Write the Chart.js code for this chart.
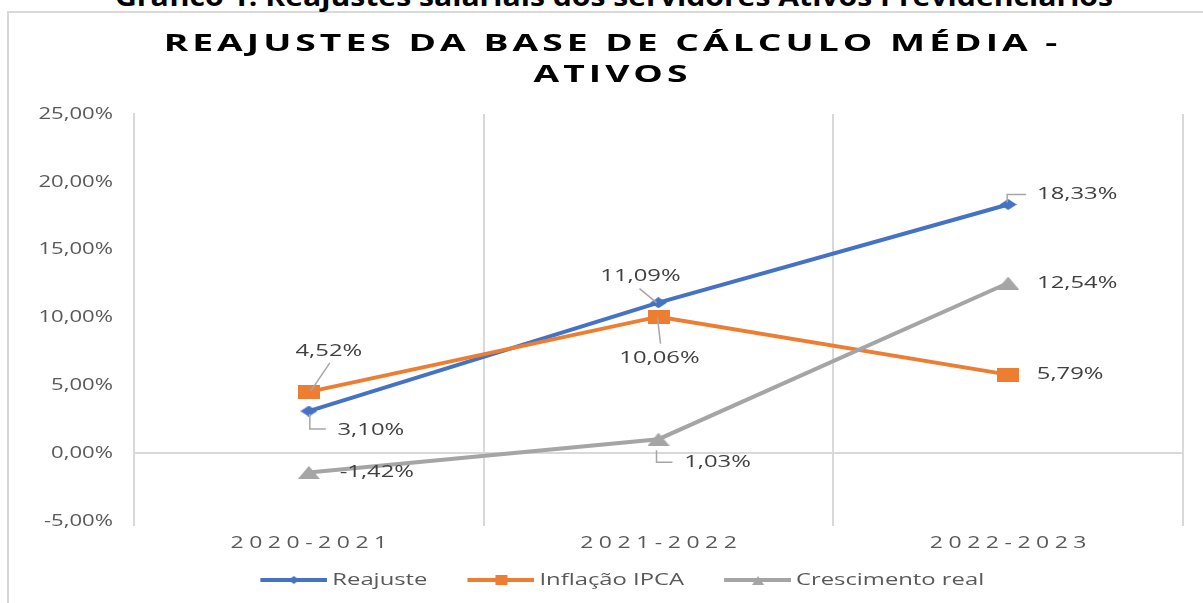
<!DOCTYPE html>
<html><head><meta charset="utf-8">
<script src="https://cdn.jsdelivr.net/npm/chart.js@4.4.1/dist/chart.umd.min.js"></script>
<style>
html,body{margin:0;padding:0;background:#fff;width:1203px;height:603px;overflow:hidden;position:relative}
#frame{position:absolute;left:7px;top:11px;width:1300px;height:700px;border-left:2px solid #d9d9d9;border-top:2px solid #d9d9d9;box-sizing:border-box}
#cap{position:absolute;left:115px;top:-17px;white-space:nowrap;font:bold 26px 'Open Sans',sans-serif;line-height:26px;color:#000;transform-origin:0 0}
#c{position:absolute;left:0;top:0}
</style></head><body>
<div id="frame"></div>
<div id="cap"><span id="capt">Gráfico 1: Reajustes salariais dos servidores Ativos Previdenciários</span></div>
<canvas id="c" width="1203" height="603"></canvas>
<script>
// ---- data ----
const categories = ['2020-2021', '2021-2022', '2022-2023'];
const reajuste = [3.10, 11.09, 18.33];
const inflacao = [4.52, 10.06, 5.79];
const crescimento = [-1.42, 1.03, 12.54];
const seriesNames = ['Reajuste', 'Inflação IPCA', 'Crescimento real'];
const yMin = -5, yMax = 25, yStep = 5;
const titleLines = ['REAJUSTES DA BASE DE CÁLCULO MÉDIA -', 'ATIVOS'];

// ---- styles ----
const COLORS = ['#4472C4', '#ED7D31', '#A5A5A5'];
const TEXT_STYLES = [
  {tag: 'Lato', sx: 1.55, ls: 2.6},        // title
  {tag: 'Roboto', sx: 1.3, ls: 0},         // y ticks
  {tag: 'Inter', sx: 1.35, ls: 4.1},       // x ticks
  {tag: 'Noto Sans', sx: 1.4, ls: 0},      // data labels
  {tag: 'DejaVu Sans', sx: 1.4, ls: 0}     // legend
];
// label placement relative to point (px), leader polyline relative to point
const labelLayout = [
  [{dx: 62, dy: 19, lead: [[1, 3], [1, 18], [17, 18]]}, {dx: -18, dy: -27, lead: [[-19, -14], [-2, 0]]}, {dx: 69, dy: -10, lead: [[-1, -2], [-1, -10], [18, -10]]}],
  [{dx: 20, dy: -41, lead: [[21, -29], [2, -1]]}, {dx: 1, dy: 41, lead: [[-1, 1], [2, 27]]}, {dx: 62, dy: 0}],
  [{dx: 68, dy: 0}, {dx: 59, dy: 23, lead: [[-2, 11], [-2, 23], [14, 23]]}, {dx: 69, dy: 0}]
];

// caption fit
(function(){
  const s = document.getElementById('capt');
  const w = s.getBoundingClientRect().width;
  document.getElementById('cap').style.transform = 'scaleX(' + (998 / w) + ')';
})();

// ---- text rendering (stretched glyphs / letter spacing) ----
const nativeFill = CanvasRenderingContext2D.prototype.fillText;
const nativeMeasure = CanvasRenderingContext2D.prototype.measureText;
function styleFor(font){ for (const s of TEXT_STYLES) if (font.indexOf(s.tag) !== -1) return s; return null; }
function patch(ctx){
  const hasLS = 'letterSpacing' in ctx;
  ctx.fillText = function(text, x, y){
    const st = styleFor(this.font);
    if (!st) return nativeFill.call(this, text, x, y);
    this.save();
    if (hasLS) this.letterSpacing = st.ls + 'px';
    this.translate(x, y);
    this.scale(st.sx, 1);
    const a = this.textAlign;
    const ls = hasLS ? st.ls : 0;
    const dx = (a === 'center') ? ls / 2 : (a === 'right' || a === 'end') ? ls : 0;
    nativeFill.call(this, text, dx, 0);
    this.restore();
  };
  ctx.measureText = function(text){
    const st = styleFor(this.font);
    if (!st) return nativeMeasure.call(this, text);
    const prev = hasLS ? this.letterSpacing : null;
    if (hasLS) this.letterSpacing = st.ls + 'px';
    const m = nativeMeasure.call(this, text);
    if (hasLS) this.letterSpacing = prev;
    const ls = hasLS ? st.ls : 0;
    return {width: Math.max(0, m.width - ls) * st.sx,
      actualBoundingBoxAscent: m.actualBoundingBoxAscent, actualBoundingBoxDescent: m.actualBoundingBoxDescent,
      actualBoundingBoxLeft: m.actualBoundingBoxLeft * st.sx, actualBoundingBoxRight: m.actualBoundingBoxRight * st.sx,
      fontBoundingBoxAscent: m.fontBoundingBoxAscent, fontBoundingBoxDescent: m.fontBoundingBoxDescent};
  };
}

// ---- marker images ----
function mk(w, h, draw){ const c = document.createElement('canvas'); c.width = w; c.height = h; draw(c.getContext('2d'), w, h); return c; }
const diamond = (col, w, h) => mk(w, h, x => { x.fillStyle = col; x.beginPath(); x.moveTo(w/2, 0); x.lineTo(w, h/2); x.lineTo(w/2, h); x.lineTo(0, h/2); x.closePath(); x.fill(); });
const square = (col, w, h) => mk(w, h, x => { x.fillStyle = col; x.fillRect(0, 0, w, h); });
const triangle = (col, w, h) => mk(w, h, x => { x.fillStyle = col; x.beginPath(); x.moveTo(w/2, 0); x.lineTo(w, h); x.lineTo(0, h); x.closePath(); x.fill(); });
// legend box 87 wide; icon image 94 wide centred on it: line occupies the last 67 px
const LEG_BOX = 87, ICON_W = 94, ICON_LINE = 67;
const legendIcon = (col, m) => mk(ICON_W, 16, (x, w, h) => {
  const x0 = ICON_W - ICON_LINE;
  x.strokeStyle = col; x.lineWidth = 4; x.beginPath(); x.moveTo(x0, h/2); x.lineTo(w, h/2); x.stroke();
  x.drawImage(m, Math.round(x0 + (ICON_LINE - m.width)/2), Math.round((h - m.height)/2)); });

const pointImgs = [diamond(COLORS[0], 17, 11), square(COLORS[1], 22, 14), triangle(COLORS[2], 22, 13)];
const legendImgs = [legendIcon(COLORS[0], diamond(COLORS[0], 11, 8)), legendIcon(COLORS[1], square(COLORS[1], 12, 10)), legendIcon(COLORS[2], triangle(COLORS[2], 12, 9))];

const fmt = v => v.toFixed(2).replace('.', ',') + '%';

const labelPlugin = {
  id: 'dataLabels',
  afterDatasetsDraw(chart){
    const ctx = chart.ctx;
    chart.data.datasets.forEach((ds, i) => {
      const meta = chart.getDatasetMeta(i);
      meta.data.forEach((el, j) => {
        const L = labelLayout[i][j];
        ctx.save();
        if (L.lead){
          ctx.strokeStyle = '#A6A6A6'; ctx.lineWidth = 1.5;
          ctx.beginPath();
          L.lead.forEach((p, k) => { const px = el.x + p[0], py = el.y + p[1]; if (k === 0) ctx.moveTo(px, py); else ctx.lineTo(px, py); });
          ctx.stroke();
        }
        ctx.font = "17px 'Open Sans', 'Noto Sans'";
        ctx.fillStyle = '#404040';
        ctx.textAlign = 'center';
        ctx.textBaseline = 'middle';
        ctx.fillText(fmt(ds.data[j]), el.x + L.dx, el.y + L.dy);
        ctx.restore();
      });
    });
  }
};

const canvas = document.getElementById('c');
patch(canvas.getContext('2d'));

const seriesData = [reajuste, inflacao, crescimento];
new Chart(canvas, {
  type: 'line',
  data: {
    labels: categories,
    datasets: seriesData.map((d, i) => ({
      label: seriesNames[i], data: d, borderColor: COLORS[i], backgroundColor: COLORS[i],
      borderWidth: 4, tension: 0, pointStyle: pointImgs[i], pointRadius: 8, order: 3 - i, yAxisID: 'y'
    }))
  },
  options: {
    responsive: false, animation: false, events: [],
    layout: {padding: {left: 18, right: 0, top: 0, bottom: 4.5}},
    plugins: {
      tooltip: {enabled: false},
      title: {display: true, text: titleLines, color: '#000',
        font: {size: 24, weight: 'bold', family: "'Open Sans', Lato", lineHeight: 1.27},
        padding: {top: 29.25, bottom: 23.75}},
      legend: {position: 'bottom',
        labels: {usePointStyle: true, pointStyleWidth: LEG_BOX, padding: 16.5, color: '#595959',
          font: {size: 17, family: "'Open Sans', 'DejaVu Sans'"},
          generateLabels: chart => chart.data.datasets.map((ds, i) => ({
            text: ds.label, fillStyle: ds.borderColor, strokeStyle: ds.borderColor, lineWidth: 0,
            pointStyle: legendImgs[i], datasetIndex: i, hidden: false, fontColor: '#595959'}))}}
    },
    scales: {
      x: {offset: true,
        grid: {offset: true, color: '#D9D9D9', lineWidth: 2, drawTicks: true, tickLength: 5},
        border: {display: false},
        ticks: {color: '#595959', padding: 7, maxRotation: 0, autoSkip: false, font: {size: 17, family: "'Open Sans', Inter"}},
        afterFit: s => { s.height = 34; }},
      y: {min: yMin, max: yMax,
        ticks: {stepSize: yStep, color: '#595959', padding: 21, font: {size: 17, family: "'Open Sans', Roboto"}, callback: v => fmt(v)},
        grid: {drawTicks: false, lineWidth: 2, color: c => (c.tick && c.tick.value === 0) ? '#D9D9D9' : 'rgba(0,0,0,0)'},
        border: {display: true, color: '#D9D9D9', width: 2},
        afterFit: s => { s.width = 116; }},
      y2: {position: 'right', min: 0, max: 1, grid: {display: false}, border: {display: false}, ticks: {display: false},
        afterFit: s => { s.width = 20; }}
    }
  },
  plugins: [labelPlugin]
});
</script>
</body></html>
